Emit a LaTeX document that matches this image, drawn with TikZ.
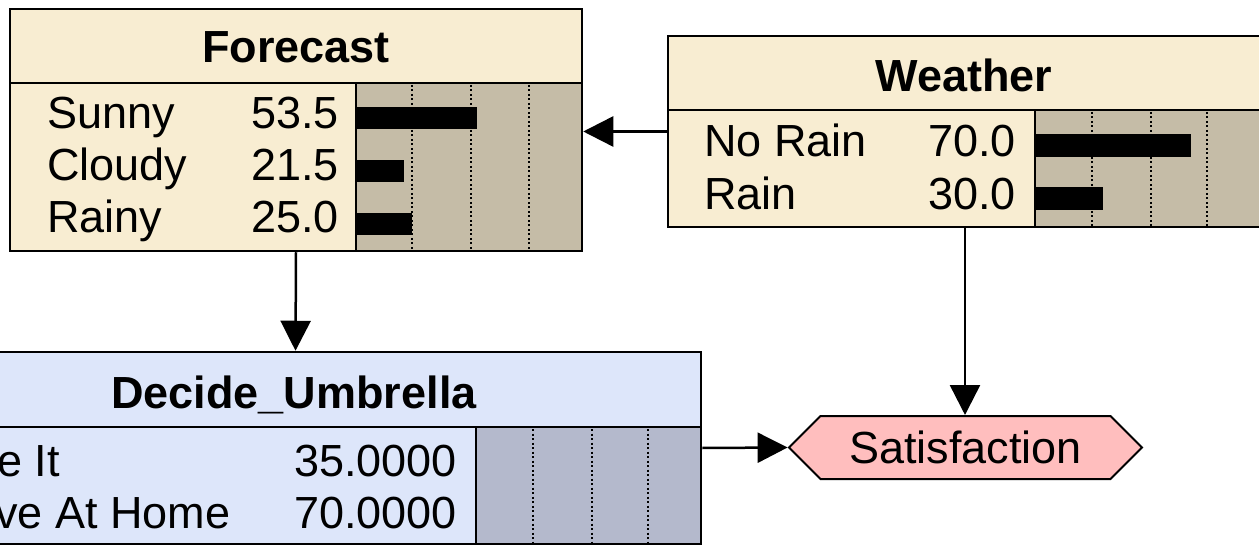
\documentclass[tikz,border=0pt]{standalone}
\usepackage{fontspec}
\setmainfont{Liberation Sans}
\usetikzlibrary{shapes,arrows,arrows.meta}
\definecolor{cream}{RGB}{248,237,210}
\definecolor{creambar}{RGB}{197,188,167}
\definecolor{paleblue}{RGB}{221,230,250}
\definecolor{bluebar}{RGB}{180,185,204}
\definecolor{palepink}{RGB}{255,190,190}

\begin{document}
\begin{tikzpicture}[x=1pt, y=-1pt, line width=2.5pt]
\tikzstyle{boxc}=[rectangle, draw=black, fill=cream, line width=2.5pt, inner sep=0pt]
\tikzstyle{boxd}=[rectangle, draw=black, fill=paleblue, line width=2.5pt, inner sep=0pt]
\tikzstyle{txt}=[inner sep=0pt, font=\fontsize{45}{54}\selectfont]
\tikzstyle{hdr}=[inner sep=0pt, font=\fontsize{45}{54}\selectfont\bfseries]
\tikzstyle{gridline}=[line width=2.5pt, dash pattern=on 2pt off 2.5pt]
\tikzstyle{drawstyle}=[line width=2.5pt, -{Triangle[length=30pt,width=30pt]}]

\useasboundingbox (0,0) rectangle (1259,548);
\clip (0,0) rectangle (1259,548);

% Forecast
\node[boxc, minimum width=572pt, minimum height=242pt] (Forecast) at (296,130) {};
\draw[fill=creambar] (356,83) rectangle (582,251);
\draw (10,83) -- (582,83);
\draw[gridline] (412,85) -- (412,250);
\draw[gridline] (471,85) -- (471,250);
\draw[gridline] (529,85) -- (529,250);
\fill (356,107) rectangle (477,129);
\fill (356,160) rectangle (404,182);
\fill (356,213) rectangle (412,235);
\node[hdr, anchor=base] (ForecastT) at (296,63) {Forecast};
\node[txt, anchor=base west] (F1L) at (46,129) {Sunny};
\node[txt, anchor=base east] (F1V) at (340,129) {53.5};
\node[txt, anchor=base west] (F2L) at (46,181) {Cloudy};
\node[txt, anchor=base east] (F2V) at (340,181) {21.5};
\node[txt, anchor=base west] (F3L) at (46,233) {Rainy};
\node[txt, anchor=base east] (F3V) at (340,233) {25.0};

% Weather
\node[boxc, minimum width=594pt, minimum height=191pt] (Weather) at (965,131.5) {};
\draw[fill=creambar] (1035,110) rectangle (1262,227);
\draw (668,110) -- (1262,110);
\draw[gridline] (1092,112) -- (1092,226);
\draw[gridline] (1151,112) -- (1151,226);
\draw[gridline] (1207,112) -- (1207,226);
\fill (1035,134) rectangle (1191,157);
\fill (1035,187) rectangle (1103,210);
\node[hdr, anchor=base] (WeatherT) at (964,92) {Weather};
\node[txt, anchor=base west] (W1L) at (703,157) {No Rain};
\node[txt, anchor=base east] (W1V) at (1017,157) {70.0};
\node[txt, anchor=base west] (W2L) at (703,210) {Rain};
\node[txt, anchor=base east] (W2V) at (1017,210) {30.0};

% Decide_Umbrella
\node[boxd, minimum width=811pt, minimum height=192pt] (Decide) at (295.5,448) {};
\draw[fill=bluebar] (476,427) rectangle (701,544);
\draw (-110,427) -- (701,427);
\draw[gridline] (533,429) -- (533,543);
\draw[gridline] (592,429) -- (592,543);
\draw[gridline] (648,429) -- (648,543);
\node[hdr, anchor=base] (DecideT) at (294,408) {Decide\_Umbrella};
\node[txt, anchor=base west] (D1L) at (-74,476) {Take It};
\node[txt, anchor=base west] (D2L) at (-81,528) {Leave At Home};
\node[txt, anchor=base east] (D1V) at (458,476) {35.0000};
\node[txt, anchor=base east] (D2V) at (458,528) {70.0000};

% Satisfaction
\node[signal, signal to=west and east, draw=black, fill=palepink, line width=2pt,
  minimum width=353pt, minimum height=63pt, inner sep=0pt,
  font=\fontsize{45}{54}\selectfont] (Satisfaction) at (965.5,447.5) {Satisfaction};

\draw[drawstyle] (Weather.west) -- (Weather.west -| Forecast.east);
\draw[drawstyle] (Forecast.south) -- (Decide.north);
\draw[drawstyle] (Weather.south) -- (Weather.south |- Satisfaction.north);
\draw[drawstyle] (Decide.east) -- (Satisfaction.west);
\end{tikzpicture}
\end{document}
